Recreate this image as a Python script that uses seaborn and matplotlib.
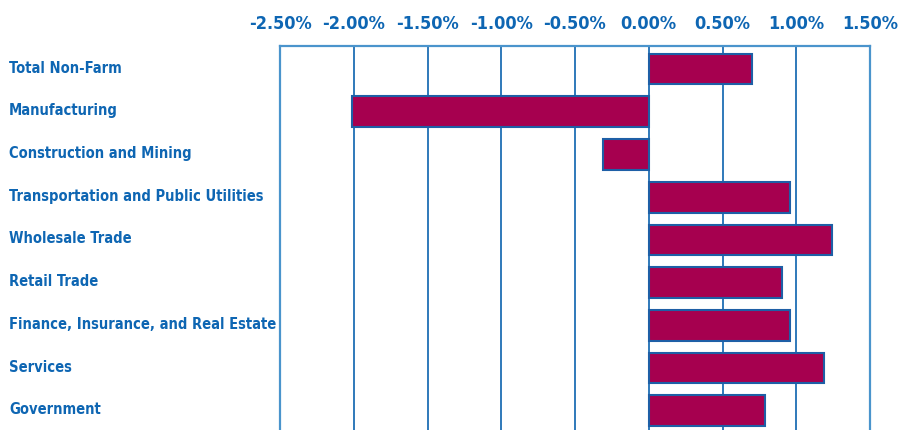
import pandas as pd
import matplotlib.pyplot as plt
import matplotlib.transforms as mtransforms
import seaborn as sns

# ─────────────────────────────────────────────
# Horizontal bar chart — employment growth by sector
# ─────────────────────────────────────────────

BAR_COLOR  = "#A6004F"
EDGE_COLOR = "#1E5FA6"
GRID_COLOR = "#1F6EB4"
TEXT_COLOR = "#0E66B3"

sectors = ["Total Non-Farm", "Manufacturing", "Construction and Mining",
           "Transportation and Public Utilities", "Wholesale Trade",
           "Retail Trade", "Finance, Insurance, and Real Estate",
           "Services", "Government"]
growth  = [0.70, -2.01, -0.31, 0.96, 1.24, 0.90, 0.96, 1.19, 0.79]
ticks   = [-2.5, -2.0, -1.5, -1.0, -0.5, 0.0, 0.5, 1.0, 1.5]

df = pd.DataFrame({"sector": sectors, "growth": growth})

sns.set_style("white")
plt.rcParams["font.family"] = ["DejaVu Sans"]

fig = plt.figure(figsize=(9, 4.31), dpi=100)
ax = fig.add_axes([280 / 900, 0.0, 590 / 900, (431 - 47) / 431])

sns.barplot(data=df, x="growth", y="sector", orient="h", color=BAR_COLOR,
            edgecolor=EDGE_COLOR, linewidth=1.5, width=0.72, saturation=1,
            ax=ax)

ax.set_xlim(-2.5, 1.5)
ax.set_ylim(8.45, -0.54)
ax.set_xticks(ticks)
ax.set_xticklabels([f"{t:.2f}%" for t in ticks])
ax.xaxis.tick_top()
ax.tick_params(axis="x", length=0, pad=10)
ax.tick_params(axis="y", length=0, pad=195)

for t in ticks[1:-1]:
    ax.axvline(t, color=GRID_COLOR, linewidth=1.3, zorder=0)

lift = mtransforms.ScaledTranslation(0, 2.5 / 72, fig.dpi_scale_trans)
for lbl in ax.get_xticklabels():
    lbl.set_fontsize(13)
    lbl.set_fontweight("bold")
    lbl.set_fontstretch("condensed")
    lbl.set_color(TEXT_COLOR)
for lbl in ax.get_yticklabels():
    lbl.set_fontsize(10.5)
    lbl.set_fontweight("bold")
    lbl.set_fontstretch("condensed")
    lbl.set_color(TEXT_COLOR)
    lbl.set_horizontalalignment("left")
    lbl.set_transform(lbl.get_transform() + lift)

ax.set_xlabel("")
ax.set_ylabel("")
ax.spines["bottom"].set_visible(False)
for side in ["top", "left", "right"]:
    ax.spines[side].set_color("#4A94CC")
    ax.spines[side].set_linewidth(1.6)

plt.savefig("out.png", dpi=100)
plt.close()
